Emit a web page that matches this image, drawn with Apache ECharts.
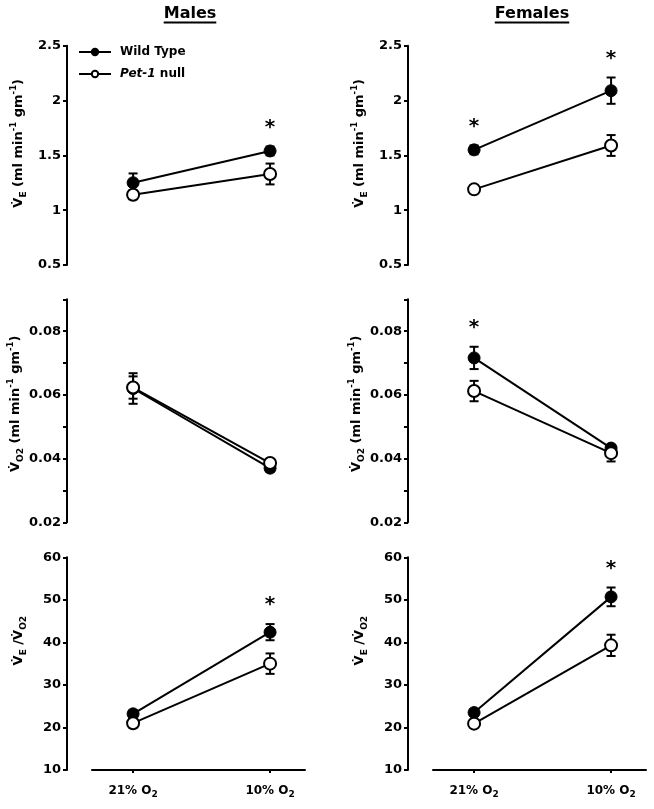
<!DOCTYPE html>
<html><head><meta charset="utf-8">
<script src="https://cdn.jsdelivr.net/npm/echarts@6/dist/echarts.min.js"></script>
<style>html,body{margin:0;padding:0;background:#fff}#c{width:654px;height:809px}</style>
</head><body><div id="c"></div>
<script>
// ---------- data ----------
const categories = ['21% O₂', '10% O₂'];
const groups = ['Wild Type', 'Pet-1 null'];
const panelTitles = ['Males', 'Females'];

// Ventilation VE (ml min-1 gm-1)
const maleVE_WT = [1.25, 1.54];      const maleVE_WT_sem = [0.085, 0.04];
const maleVE_KO = [1.14, 1.33];      const maleVE_KO_sem = [0.04, 0.095];
const maleVE_sig = [false, true];
const femaleVE_WT = [1.55, 2.09];    const femaleVE_WT_sem = [0.04, 0.12];
const femaleVE_KO = [1.19, 1.59];    const femaleVE_KO_sem = [0.035, 0.095];
const femaleVE_sig = [true, true];

// O2 consumption VO2 (ml min-1 gm-1)
const maleVO2_WT = [0.062, 0.037];   const maleVO2_WT_sem = [0.0048, 0.0012];
const maleVO2_KO = [0.0623, 0.0386]; const maleVO2_KO_sem = [0.0035, 0.0012];
const maleVO2_sig = [false, false];
const femaleVO2_WT = [0.0716, 0.0433]; const femaleVO2_WT_sem = [0.0035, 0.001];
const femaleVO2_KO = [0.0612, 0.0417]; const femaleVO2_KO_sem = [0.0032, 0.0026];
const femaleVO2_sig = [true, false];

// VE / VO2
const maleR_WT = [23.2, 42.4];   const maleR_WT_sem = [0.8, 1.9];
const maleR_KO = [21.0, 35.0];   const maleR_KO_sem = [1.0, 2.4];
const maleR_sig = [false, true];
const femaleR_WT = [23.5, 50.7]; const femaleR_WT_sem = [0.8, 2.2];
const femaleR_KO = [20.9, 39.3]; const femaleR_KO_sem = [0.9, 2.5];
const femaleR_sig = [false, true];

// tick values
const veTicks = [0.5, 1, 1.5, 2, 2.5];
const vo2Ticks = [0.02, 0.03, 0.04, 0.05, 0.06, 0.07, 0.08, 0.09];
const vo2Labels = [0.02, 0.04, 0.06, 0.08];
const ratioTicks = [10, 20, 30, 40, 50, 60];

// ---------- layout ----------
const FONT = 'DejaVu Sans';
const colLeft = [92, 433];
const gridW = 213;
const rowTop = [45.7, 299.3, 557.3];
const rowH = [219.3, 223, 212.7];
const titleX = [190, 532];
const nameShift = [24, 14, 46];

const panels = [
  {row:0,col:0,wt:maleVE_WT,wtE:maleVE_WT_sem,ko:maleVE_KO,koE:maleVE_KO_sem,sig:maleVE_sig},
  {row:0,col:1,wt:femaleVE_WT,wtE:femaleVE_WT_sem,ko:femaleVE_KO,koE:femaleVE_KO_sem,sig:femaleVE_sig},
  {row:1,col:0,wt:maleVO2_WT,wtE:maleVO2_WT_sem,ko:maleVO2_KO,koE:maleVO2_KO_sem,sig:maleVO2_sig},
  {row:1,col:1,wt:femaleVO2_WT,wtE:femaleVO2_WT_sem,ko:femaleVO2_KO,koE:femaleVO2_KO_sem,sig:femaleVO2_sig},
  {row:2,col:0,wt:maleR_WT,wtE:maleR_WT_sem,ko:maleR_KO,koE:maleR_KO_sem,sig:maleR_sig},
  {row:2,col:1,wt:femaleR_WT,wtE:femaleR_WT_sem,ko:femaleR_KO,koE:femaleR_KO_sem,sig:femaleR_sig}
];
const rowAxes = [
  {ticks: veTicks, labels: veTicks, fmt: v => String(v),
   name: '{v|V̇}{sub|E}{t| (ml min}{sup|-1}{t| gm}{sup|-1}{t|)}'},
  {ticks: vo2Ticks, labels: vo2Labels, fmt: v => v.toFixed(2),
   name: '{v|V̇}{sub|O2}{t| (ml min}{sup|-1}{t| gm}{sup|-1}{t|)}'},
  {ticks: ratioTicks, labels: ratioTicks, fmt: v => String(v),
   name: '{v|V̇}{sub|E}{t| /}{v|V̇}{sub|O2}'}
];

const nameRich = {
  t:{fontFamily:FONT,fontWeight:'bold',fontSize:13,color:'#000',lineHeight:19},
  v:{fontFamily:FONT,fontWeight:'bold',fontSize:13,color:'#000',lineHeight:19},
  sub:{fontFamily:FONT,fontWeight:'bold',fontSize:9,color:'#000',lineHeight:9,verticalAlign:'bottom'},
  sup:{fontFamily:FONT,fontWeight:'bold',fontSize:8.5,color:'#000',lineHeight:10,verticalAlign:'top'}
};

const grids = [], xAxes = [], yAxes = [], series = [];
panels.forEach((p, i) => {
  grids.push({left: colLeft[p.col], width: gridW, top: rowTop[p.row], height: rowH[p.row], containLabel:false});
  const ra = rowAxes[p.row];
  const bottom = p.row === 2;
  xAxes.push({
    type:'value', gridIndex:i, min:-0.3, max:1.255, show: bottom,
    splitLine:{show:false},
    axisLine:{show:true,onZero:false,lineStyle:{color:'#000',width:2}},
    axisTick:{show:true,customValues:[0,1],length:3,lineStyle:{color:'#000',width:2}},
    axisLabel:{show:true,customValues:[0,1],margin:13,color:'#000',
      formatter: v => '{b|' + categories[Math.round(v)].replace('₂','}{s|2}'),
      rich:{
        b:{fontFamily:FONT,fontWeight:'bold',fontSize:12,color:'#000',lineHeight:16},
        s:{fontFamily:FONT,fontWeight:'bold',fontSize:9,color:'#000',lineHeight:9,verticalAlign:'bottom'}
      }}
  });
  yAxes.push({
    type:'value', gridIndex:i, min: ra.ticks[0], max: ra.ticks[ra.ticks.length-1],
    offset: 25,
    splitLine:{show:false},
    axisLine:{show:true,onZero:false,lineStyle:{color:'#000',width:2}},
    axisTick:{show:true,customValues:ra.ticks,length:4,lineStyle:{color:'#000',width:2}},
    axisLabel:{show:true,customValues:ra.labels,margin:6,color:'#000',fontFamily:FONT,fontWeight:'bold',fontSize:13,
      formatter: ra.fmt},
    name: ra.name, nameLocation:'middle', nameRotate:90, nameGap:39,
    nameTextStyle:{rich:nameRich, fontFamily:FONT, fontWeight:'bold', fontSize:13, color:'#000',
      padding:[0,0,0,nameShift[p.row]]}
  });

  const mkErr = (vals, sems, z) => ({
    type:'custom', xAxisIndex:i, yAxisIndex:i, z, silent:true, clip:false,
    data: vals.map((v, k) => [k, v, sems[k]]),
    renderItem(params, api) {
      const x = api.value(0), m = api.value(1), s = api.value(2);
      const t = api.coord([x, m + s]), b = api.coord([x, m - s]);
      const hw = 4.5, st = {stroke:'#000', lineWidth:2};
      return {type:'group', children:[
        {type:'line', shape:{x1:t[0],y1:t[1],x2:b[0],y2:b[1]}, style:st},
        {type:'line', shape:{x1:t[0]-hw,y1:t[1],x2:t[0]+hw,y2:t[1]}, style:st},
        {type:'line', shape:{x1:b[0]-hw,y1:b[1],x2:b[0]+hw,y2:b[1]}, style:st}
      ]};
    }
  });
  series.push(mkErr(p.wt, p.wtE, 1));
  series.push(mkErr(p.ko, p.koE, 1));
  series.push({
    type:'line', name: groups[0], xAxisIndex:i, yAxisIndex:i, z:3, silent:true,
    data: p.wt.map((v,k)=>[k,v]), symbol:'circle', symbolSize:12, showSymbol:true,
    lineStyle:{color:'#000',width:2}, itemStyle:{color:'#000',borderColor:'#000',borderWidth:1}
  });
  series.push({
    type:'line', name: groups[1], xAxisIndex:i, yAxisIndex:i, z:4, silent:true,
    data: p.ko.map((v,k)=>[k,v]), symbol:'circle', symbolSize:12, showSymbol:true,
    lineStyle:{color:'#000',width:2}, itemStyle:{color:'#fff',borderColor:'#000',borderWidth:2}
  });
  // significance asterisks above the wild-type error bar
  series.push({
    type:'custom', xAxisIndex:i, yAxisIndex:i, z:5, silent:true, clip:false,
    data: p.sig.map((s,k)=>[k, p.wt[k] + p.wtE[k], s ? 1 : 0]),
    renderItem(params, api) {
      if (!api.value(2)) return null;
      const c = api.coord([api.value(0), api.value(1)]);
      return {type:'text', x:c[0], y:c[1]-19,
        style:{text:'*', fontFamily:FONT, fontWeight:'bold', fontSize:20, fill:'#000', align:'center', verticalAlign:'middle'}};
    }
  });
});

// title underline widths
const ctx = document.createElement('canvas').getContext('2d');
ctx.font = 'bold 16px "DejaVu Sans"';
const graphic = [];
panelTitles.forEach((t, c) => {
  const w = ctx.measureText(t).width;
  graphic.push({type:'text', x:titleX[c], y:14, style:{text:t, fontFamily:FONT, fontWeight:'bold', fontSize:16, fill:'#000', align:'center', verticalAlign:'middle'}});
  graphic.push({type:'rect', shape:{x:titleX[c]-w/2, y:21.5, width:w, height:2}, style:{fill:'#000'}});
});

const chart = echarts.init(document.getElementById('c'));
chart.setOption({
  animation:false,
  backgroundColor:'#fff',
  grid: grids, xAxis: xAxes, yAxis: yAxes, series,
  graphic,
  legend:{
    data: groups, left:73, top:41, orient:'vertical', itemWidth:32, itemHeight:8, itemGap:10,
    selectedMode:false,
    formatter: n => n === 'Pet-1 null' ? '{i|Pet-1} null' : n,
    textStyle:{fontFamily:FONT, fontWeight:'bold', fontSize:12, color:'#000', padding:[0,0,0,4],
      rich:{i:{fontFamily:FONT, fontWeight:'bold', fontStyle:'italic', fontSize:12, color:'#000'}}}
  }
});
</script></body></html>
